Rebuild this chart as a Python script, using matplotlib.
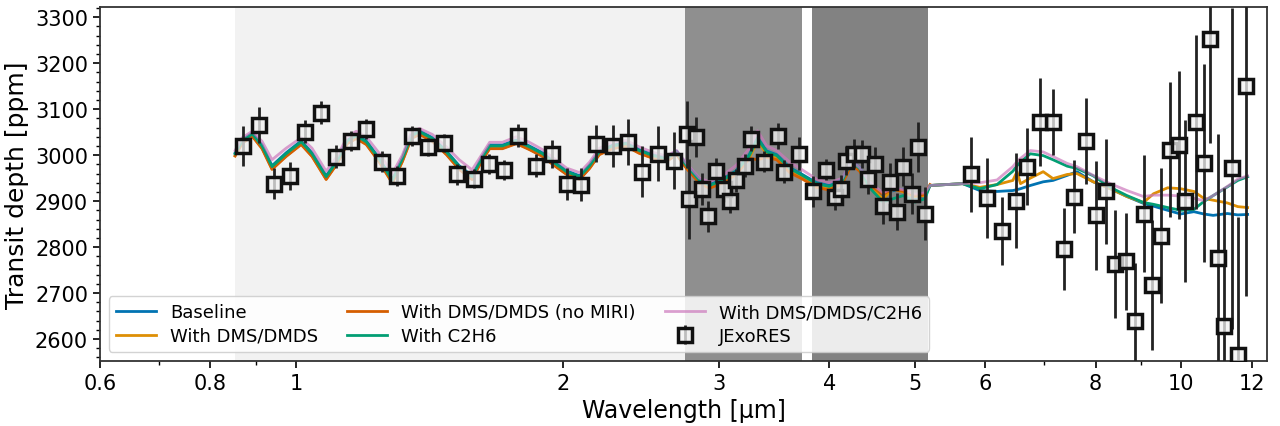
import matplotlib
matplotlib.use('Agg')
import matplotlib.pyplot as plt
import numpy as np

# colorblind palette (seaborn)
c_base = '#0173B2'
c_dms = '#DE8F05'
c_nomiri = '#D55E00'
c_c2h6 = '#029E73'
c_all = '#CC78BC'

# high resolution data coverage (drawn as faint bands)
band_lo = [0.853, 2.75, 3.83]
band_hi = [2.75, 3.73, 5.17]
band_alpha = [0.05, 0.44, 0.49]

# JExoRES binned spectrum
wl_obs = [0.871, 0.908, 0.944, 0.984, 1.024, 1.067, 1.110, 1.154, 1.200, 1.250,
          1.300, 1.350, 1.410, 1.470, 1.520, 1.586, 1.649, 1.719, 1.780, 1.864,
          1.943, 2.020, 2.100, 2.180, 2.277, 2.370, 2.460, 2.560, 2.670, 2.760,
          2.780, 2.830, 2.870, 2.920, 2.980, 3.040, 3.090, 3.140, 3.210, 3.260,
          3.380, 3.500, 3.560, 3.700, 3.840, 3.970, 4.060, 4.130, 4.180, 4.270,
          4.360, 4.430, 4.510, 4.600, 4.680, 4.770, 4.850, 4.960, 5.040, 5.130,
          5.79, 6.03, 6.27, 6.51, 6.70, 6.92, 7.16, 7.37, 7.57, 7.80,
          8.01, 8.22, 8.42, 8.65, 8.87, 9.07, 9.27, 9.49, 9.70, 9.93,
          10.10, 10.38, 10.60, 10.77, 10.99, 11.17, 11.40, 11.60, 11.83]
d_obs = [3020, 3066, 2938, 2955, 3051, 3092, 2997, 3031, 3057, 2986,
         2955, 3042, 3018, 3027, 2958, 2949, 2981, 2968, 3042, 2977,
         3003, 2938, 2936, 3025, 3020, 3029, 2964, 3003, 2988, 3045,
         2905, 3040, 2927, 2867, 2966, 2927, 2901, 2945, 2977, 3036,
         2986, 3042, 2964, 3003, 2921, 2968, 2910, 2927, 2988, 3003,
         3003, 2949, 2981, 2890, 2942, 2877, 2975, 2916, 3018, 2873,
         2958, 2906, 2836, 2901, 2975, 3072, 3072, 2795, 2910, 3031,
         2869, 2921, 2763, 2769, 2639, 2873, 2717, 2825, 3012, 3023,
         2901, 3072, 2983, 3252, 2776, 2628, 2971, 2565, 3150]
e_obs = [43, 39, 33, 30, 25, 25, 25, 22, 22, 22,
         22, 22, 20, 20, 22, 20, 22, 22, 25, 25,
         30, 35, 35, 40, 45, 50, 55, 60, 62, 72,
         87, 43, 35, 34, 27, 30, 27, 25, 25, 27,
         23, 29, 25, 36, 34, 23, 29, 30, 32, 32,
         30, 34, 37, 40, 40, 40, 43, 45, 54, 58,
         82, 87, 74, 103, 83, 95, 72, 89, 80, 93,
         119, 115, 117, 106, 126, 128, 141, 146, 147, 161,
         176, 190, 215, 225, 270, 300, 350, 300, 457]

# model spectra, near infrared part
wl_nir = [0.853, 0.869, 0.892, 0.915, 0.939, 0.974, 1.013, 1.042, 1.081, 1.113,
          1.142, 1.169, 1.200, 1.240, 1.284, 1.318, 1.349, 1.378, 1.425, 1.478,
          1.528, 1.580, 1.619, 1.654, 1.710, 1.773, 1.834, 1.898, 1.948, 2.020,
          2.090, 2.145, 2.200, 2.277, 2.360, 2.440, 2.530, 2.620, 2.690, 2.760,
          2.855, 2.930, 3.030, 3.140, 3.250, 3.320, 3.400, 3.490, 3.610, 3.730,
          3.870, 4.000, 4.140, 4.240, 4.330, 4.440, 4.600, 4.720, 4.850, 5.000,
          5.130, 5.200]
base_nir = [3005, 3033, 3048, 3022, 2977, 3005, 3031, 3005, 2955, 2990,
            3033, 3044, 3031, 2994, 2947, 2994, 3044, 3053, 3038, 3009,
            2977, 2955, 2994, 3022, 3022, 3033, 3020, 3005, 2988, 2966,
            2955, 2979, 3009, 3022, 3027, 3012, 3001, 2994, 3009, 2979,
            2947, 2936, 2947, 2966, 3001, 3038, 3009, 3001, 2973, 2958,
            2940, 2934, 2947, 2988, 2973, 2940, 2912, 2923, 2925, 2908,
            2912, 2934]
dms_nir = [2999, 3027, 3042, 3015, 2970, 2998, 3024, 2998, 2948, 2983,
           3026, 3037, 3024, 2987, 2940, 2987, 3037, 3046, 3031, 3002,
           2970, 2948, 2987, 3015, 3015, 3026, 3013, 2998, 2981, 2959,
           2948, 2972, 3002, 3015, 3020, 3005, 2994, 2987, 3002, 2972,
           2940, 2929, 2940, 2959, 2994, 3031, 3002, 2994, 2966, 2951,
           2933, 2927, 2940, 2981, 2966, 2933, 2905, 2926, 2920, 2910,
           2912, 2934]
nomiri_nir = [2998, 3026, 3041, 3014, 2969, 2997, 3023, 2997, 2947, 2982,
              3025, 3036, 3023, 2986, 2939, 2986, 3036, 3045, 3030, 3001,
              2969, 2947, 2986, 3014, 3014, 3025, 3012, 2997, 2980, 2958,
              2947, 2971, 3001, 3014, 3019, 3004, 2993, 2986, 3001, 2971,
              2939, 2928, 2939, 2958, 2993, 2990, 2995, 2990, 2962, 2948,
              2930, 2924, 2938, 2980, 2965, 2935, 2915, 2926, 2922, 2912,
              2915, 2936]
c2h6_nir = [3003, 3031, 3046, 3020, 2975, 3003, 3029, 3003, 2953, 2988,
            3031, 3042, 3029, 2992, 2945, 2992, 3042, 3051, 3036, 3007,
            2975, 2953, 2992, 3020, 3020, 3031, 3018, 3003, 2986, 2964,
            2953, 2977, 3007, 3020, 3025, 3010, 2999, 2992, 3007, 2977,
            2945, 2934, 2945, 2964, 2999, 3036, 3007, 2999, 2971, 2956,
            2938, 2932, 2945, 2986, 2971, 2930, 2898, 2905, 2912, 2898,
            2905, 2934]
all_nir = [3010, 3038, 3052, 3030, 2990, 3015, 3038, 3015, 2965, 2998,
           3040, 3052, 3040, 3005, 2960, 3000, 3050, 3058, 3045, 3018,
           2990, 2968, 3000, 3028, 3028, 3040, 3028, 3012, 2995, 2972,
           2962, 2985, 3015, 3028, 3032, 3018, 3006, 2998, 3010, 2982,
           2950, 2942, 2955, 2978, 3015, 3053, 3020, 3010, 2985, 2968,
           2948, 2940, 2950, 2988, 2973, 2942, 2918, 2928, 2925, 2915,
           2918, 2934]

# model spectra, MIRI part
wl_miri = [5.66, 5.92, 6.19, 6.45, 6.52, 6.58, 6.75, 6.98, 7.16, 7.43,
           7.62, 7.95, 8.31, 8.68, 9.06, 9.30, 9.65, 9.98, 10.33, 10.60,
           10.86, 11.27, 11.58, 11.88]
base_miri = [2938, 2923, 2921, 2923, 2925, 2927, 2934, 2942, 2945, 2956,
             2964, 2942, 2927, 2910, 2895, 2889, 2880, 2872, 2877, 2872,
             2869, 2873, 2870, 2871]
dms_miri = [2938, 2930, 2936, 2945, 2964, 2938, 2950, 2964, 2949, 2958,
            2960, 2942, 2927, 2910, 2897, 2916, 2929, 2927, 2921, 2906,
            2902, 2896, 2888, 2886]
c2h6_miri = [2938, 2927, 2936, 2965, 2977, 2985, 3003, 2999, 2990, 2976,
             2971, 2955, 2930, 2912, 2897, 2893, 2886, 2880, 2882, 2899,
             2912, 2931, 2945, 2953]
all_miri = [2938, 2940, 2946, 2975, 2986, 2993, 3010, 3007, 2997, 2982,
            2975, 2956, 2938, 2923, 2910, 2913, 2913, 2911, 2906, 2901,
            2912, 2932, 2948, 2955]

xticks = [0.6, 0.8, 1, 2, 3, 4, 5, 6, 8, 10, 12]
xminor = [0.7, 0.9, 7, 9]

fig = plt.figure(figsize=(12.8, 4.27), dpi=100)
ax = fig.add_axes([0.078, 0.152, 0.912, 0.829])

for lo, hi, a in zip(band_lo, band_hi, band_alpha):
    ax.axvspan(lo, hi, color='k', alpha=a, lw=0, zorder=0)

wl_full = wl_nir + wl_miri
ax.plot(wl_full, base_nir + base_miri, color=c_base, lw=2, label='Baseline', zorder=3)
ax.plot(wl_full, dms_nir + dms_miri, color=c_dms, lw=2, label='With DMS/DMDS', zorder=3)
ax.plot(wl_nir, nomiri_nir, color=c_nomiri, lw=2, label='With DMS/DMDS (no MIRI)', zorder=3)
ax.plot(wl_full, c2h6_nir + c2h6_miri, color=c_c2h6, lw=2, label='With C2H6', zorder=3)
ax.plot(wl_full, all_nir + all_miri, color=c_all, lw=2, alpha=0.7,
        label='With DMS/DMDS/C2H6', zorder=3)

ax.errorbar(wl_obs, d_obs, yerr=e_obs, fmt='s', color='#222222', ecolor='#222222',
            elinewidth=2, markersize=10, mew=2.5, mec='#111111',
            mfc=(0.95, 0.95, 0.95, 0.75), label='JExoRES', zorder=4)

ax.set_xscale('log')
ax.set_xlim(0.6, 12.5)
ax.set_ylim(2552, 3322)
ax.set_xticks(xticks)
ax.set_xticklabels([str(t) for t in xticks])
ax.set_xticks(xminor, minor=True)
ax.set_xticklabels([], minor=True)
ax.set_yticks(np.arange(2600, 3301, 100))
ax.set_yticks(np.arange(2560, 3321, 20), minor=True)
ax.tick_params(labelsize=15, width=1.2, length=5)
ax.tick_params(which='minor', length=3, width=1)
for s in ax.spines.values():
    s.set_color('#333333')
    s.set_linewidth(1.3)

ax.set_xlabel('Wavelength [µm]', fontsize=17)
ax.set_ylabel('Transit depth [ppm]', fontsize=18)
ax.legend(loc='lower left', ncol=3, fontsize=13, handlelength=2.2,
          columnspacing=1.6, labelspacing=0.3, framealpha=0.85, borderaxespad=0.5)

plt.savefig('out.png', dpi=100)
